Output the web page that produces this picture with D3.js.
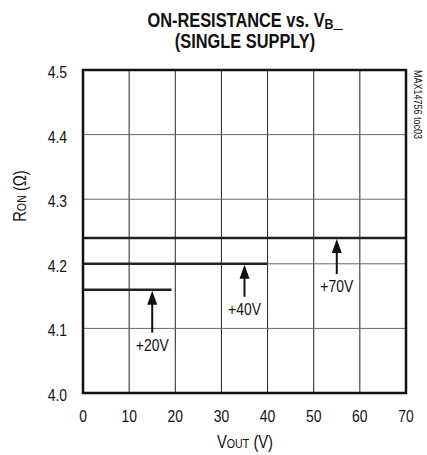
<!DOCTYPE html>
<html>
<head>
<meta charset="utf-8">
<script src="https://cdn.jsdelivr.net/npm/d3@7"></script>
<style>
body { margin: 0; background: #fff; }
text { font-family: "Liberation Sans", Arial, sans-serif; fill: #111; }
</style>
</head>
<body>
<svg id="chart" width="427" height="455"></svg>
<script>
/** data **/
var xTicks = [0, 10, 20, 30, 40, 50, 60, 70];
var yTicks = [4.0, 4.1, 4.2, 4.3, 4.4, 4.5];
var supplies = ["+20V", "+40V", "+70V"];
var ronValues = [4.16, 4.20, 4.24];
var vEnd = [19.2, 40, 70];
var arrowX = [15, 35, 55];

var svg = d3.select("#chart");
var m = { left: 83, top: 70, right: 406, bottom: 393 };
var narrow = 0.82; // reference font is a narrow sans

var x = d3.scaleLinear().domain([0, 70]).range([m.left, m.right]);
var y = d3.scaleLinear().domain([4.0, 4.5]).range([m.bottom, m.top]);

var place = function(px, py, rot) {
	return "translate(" + px + "," + py + ")" + (rot ? " rotate(" + rot + ")" : "") + " scale(" + narrow + ",1)";
}

// grid
svg.selectAll("line.vg")
	.data(xTicks.slice(1, -1))
	.enter().append("line")
	.attr("x1", function(d) { return x(d); })
	.attr("x2", function(d) { return x(d); })
	.attr("y1", m.top).attr("y2", m.bottom)
	.attr("stroke", "#222").attr("stroke-width", 1);

svg.selectAll("line.hg")
	.data(yTicks.slice(1, -1))
	.enter().append("line")
	.attr("x1", m.left).attr("x2", m.right)
	.attr("y1", function(d) { return y(d); })
	.attr("y2", function(d) { return y(d); })
	.attr("stroke", "#666").attr("stroke-width", 1);

// data lines
svg.selectAll("line.ron")
	.data(ronValues)
	.enter().append("line")
	.attr("x1", x(0))
	.attr("x2", function(d, i) { return x(vEnd[i]); })
	.attr("y1", function(d) { return y(d); })
	.attr("y2", function(d) { return y(d); })
	.attr("stroke", "#222").attr("stroke-width", 2.5);

// frame
svg.append("rect")
	.attr("x", m.left).attr("y", m.top)
	.attr("width", m.right - m.left).attr("height", m.bottom - m.top)
	.attr("fill", "none").attr("stroke", "#111").attr("stroke-width", 2.5);

// arrows + labels
var arrowLen = [43, 33, 36];
supplies.forEach(function(s, i) {
	var ax = x(arrowX[i]), ay = y(ronValues[i]);
	svg.append("line")
		.attr("x1", ax).attr("x2", ax)
		.attr("y1", ay + 12).attr("y2", ay + arrowLen[i])
		.attr("stroke", "#111").attr("stroke-width", 2);
	svg.append("path")
		.attr("d", "M" + ax + "," + (ay + 1) + " L" + (ax - 5) + "," + (ay + 15) + " L" + (ax + 5) + "," + (ay + 15) + "Z")
		.attr("fill", "#111");
	svg.append("text")
		.attr("transform", place(ax, ay + arrowLen[i] + 18))
		.attr("text-anchor", "middle")
		.attr("font-size", 17)
		.text(s);
});

// tick labels
svg.selectAll("text.xt")
	.data(xTicks)
	.enter().append("text")
	.attr("transform", function(d) { return place(x(d), 422); })
	.attr("text-anchor", "middle")
	.attr("font-size", 17)
	.text(function(d) { return d; });

svg.selectAll("text.yt")
	.data(yTicks)
	.enter().append("text")
	.attr("transform", function(d) { return place(67, y(d) + 8); })
	.attr("text-anchor", "end")
	.attr("font-size", 17)
	.text(function(d) { return d.toFixed(1); });

// axis titles
var xl = svg.append("text")
	.attr("transform", place(245, 448))
	.attr("text-anchor", "middle")
	.attr("font-size", 18);
xl.append("tspan").text("V");
xl.append("tspan").attr("font-size", 13).text("OUT");
xl.append("tspan").text(" (V)");

var yl = svg.append("text")
	.attr("transform", place(26, 196, -90))
	.attr("text-anchor", "middle")
	.attr("font-size", 18);
yl.append("tspan").text("R");
yl.append("tspan").attr("font-size", 13).text("ON");
yl.append("tspan").text(" (Ω)");

// title
var t1 = svg.append("text")
	.attr("transform", place(245, 27))
	.attr("text-anchor", "middle")
	.attr("font-size", 20).attr("font-weight", "bold");
t1.append("tspan").text("ON-RESISTANCE vs. V");
t1.append("tspan").attr("font-size", 15).attr("dy", 2).text("B");
t1.append("tspan").attr("dy", -2).text("_");

svg.append("text")
	.attr("transform", place(245, 48))
	.attr("text-anchor", "middle")
	.attr("font-size", 20).attr("font-weight", "bold")
	.text("(SINGLE SUPPLY)");

// side tag
svg.append("text")
	.attr("transform", place(414, 70, 90))
	.attr("font-size", 11)
	.text("MAX14756 toc03");
</script>
</body>
</html>
